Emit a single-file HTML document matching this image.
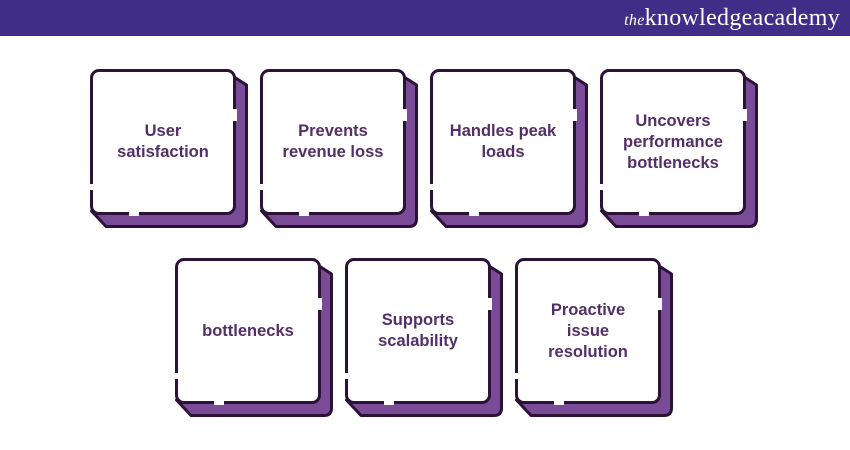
<!DOCTYPE html>
<html><head><meta charset="utf-8"><style>
body{margin:0;width:850px;height:450px;background:#fff;position:relative;overflow:hidden;font-family:"Liberation Sans",sans-serif}
.hdr{position:absolute;left:0;top:0;width:850px;height:36px;background:#3f2d87}
.logo{position:absolute;right:10px;top:5px;color:#fff;font-family:"Liberation Serif",serif;font-size:24px;letter-spacing:0.3px}
.logo i{font-size:16px}
.c{position:absolute;width:146px;height:146px}
.sh{position:absolute;left:0;top:0;width:160px;height:160px;overflow:visible}
.f{position:absolute;left:0;top:0;width:140px;height:140px;background:#fff;border:3px solid #2c1236;border-radius:9px;display:flex;align-items:center;justify-content:center;text-align:center;color:#542e68;font-weight:bold;font-size:16.5px;line-height:21px}
.g1{position:absolute;right:-4px;top:37px;width:6px;height:12px;background:#fff}
.g2{position:absolute;left:36px;bottom:-4px;width:10px;height:6px;background:#fff}
.g3{position:absolute;left:-4px;bottom:22px;width:6px;height:6px;background:#fff}
</style></head><body>
<div class="hdr"><div class="logo"><i>the</i>knowledgeacademy</div></div>

<svg width="0" height="0" style="position:absolute"><defs><path id="ex" d="M134 1.5 L156.5 16 L156.5 150 Q156.5 157.5 149 157.5 L16 157.5 L1.5 142 Z" fill="#7a4c98" stroke="#2c1236" stroke-width="3" stroke-linejoin="round"/></defs></svg>

<div class="c" style="left:90px;top:69px"><svg class="sh"><use href="#ex"/></svg><div class="f">User<br>satisfaction<span class="g1"></span><span class="g2"></span><span class="g3"></span></div></div>
<div class="c" style="left:260px;top:69px"><svg class="sh"><use href="#ex"/></svg><div class="f">Prevents<br>revenue loss<span class="g1"></span><span class="g2"></span><span class="g3"></span></div></div>
<div class="c" style="left:430px;top:69px"><svg class="sh"><use href="#ex"/></svg><div class="f">Handles peak<br>loads<span class="g1"></span><span class="g2"></span><span class="g3"></span></div></div>
<div class="c" style="left:600px;top:69px"><svg class="sh"><use href="#ex"/></svg><div class="f">Uncovers<br>performance<br>bottlenecks<span class="g1"></span><span class="g2"></span><span class="g3"></span></div></div>

<div class="c" style="left:175px;top:258px"><svg class="sh"><use href="#ex"/></svg><div class="f">bottlenecks<span class="g1"></span><span class="g2"></span><span class="g3"></span></div></div>
<div class="c" style="left:345px;top:258px"><svg class="sh"><use href="#ex"/></svg><div class="f">Supports<br>scalability<span class="g1"></span><span class="g2"></span><span class="g3"></span></div></div>
<div class="c" style="left:515px;top:258px"><svg class="sh"><use href="#ex"/></svg><div class="f">Proactive<br>issue<br>resolution<span class="g1"></span><span class="g2"></span><span class="g3"></span></div></div>
</body></html>
